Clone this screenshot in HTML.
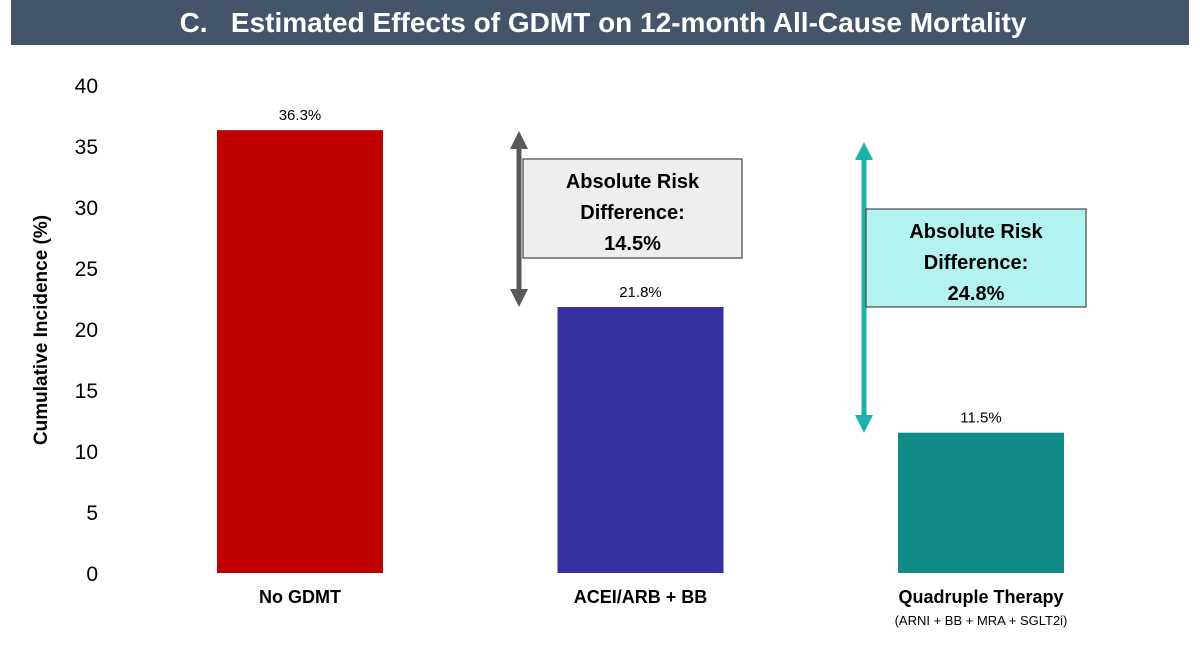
<!DOCTYPE html>
<html><head><meta charset="utf-8"><style>
html,body{margin:0;padding:0;background:#fff;width:1200px;height:657px;overflow:hidden}
svg{display:block;font-family:"Liberation Sans",sans-serif}
</style></head><body>
<svg id="c" width="1200" height="657" viewBox="0 0 1200 657">
<rect x="11" y="0" width="1178" height="45" fill="#44546a"/>
<text x="603" y="32" text-anchor="middle" fill="#fff" font-size="28" font-weight="bold">C.&#160;&#160; Estimated Effects of GDMT on 12-month All-Cause Mortality</text>
<text transform="translate(47,330) rotate(-90)" text-anchor="middle" font-size="19" font-weight="bold" fill="#000">Cumulative Incidence (%)</text>
<g id="ticks"></g><g id="bars"></g><g id="ann"></g>
</svg>
<script>
const categories=["No GDMT","ACEI/ARB + BB","Quadruple Therapy"];
const values=[36.3,21.8,11.5];
const valueLabels=["36.3%","21.8%","11.5%"];
const yTicks=[0,5,10,15,20,25,30,35,40];
const riskDiffs=["14.5%","24.8%"];
const colors=["#c00000","#3730a3","#128a87"];
const NS="http://www.w3.org/2000/svg";
const svg=document.getElementById('c');
function y(v){return 573-v*12.2;}
function xc(i){return 300+i*340.5;}
function mk(t,a,p,txt){const e=document.createElementNS(NS,t);for(const k in a)e.setAttribute(k,a[k]);if(txt!==undefined)e.textContent=txt;(p||svg).appendChild(e);return e;}
const tg=document.getElementById('ticks');
yTicks.forEach(t=>{const e=mk('text',{x:98,y:y(t)+8,'text-anchor':'end','font-size':21,fill:'#000'},tg,String(t));

});
const bg=document.getElementById('bars');
values.forEach((v,i)=>{const r=mk('rect',{x:xc(i)-83,y:y(v),width:166,height:y(0)-y(v),fill:colors[i]},bg);


const l=mk('text',{x:xc(i),y:y(v)-10,'text-anchor':'middle','font-size':15,fill:'#000'},bg,valueLabels[i]);


const c=mk('text',{x:xc(i),y:603,'text-anchor':'middle','font-size':18,'font-weight':'bold',fill:'#000'},bg,categories[i]);

});
const sub=mk('text',{x:xc(2),y:625,'text-anchor':'middle','font-size':13,fill:'#000'},bg,"(ARNI + BB + MRA + SGLT2i)");


const ag=document.getElementById('ann');
function arrow(x,top,bot,col,name){const g=mk('g',{},ag);


mk('line',{x1:x,x2:x,y1:top+14,y2:bot-14,stroke:col,'stroke-width':5},g);
mk('polygon',{points:`${x-9},${top+18} ${x},${top} ${x+9},${top+18}`,fill:col},g);
mk('polygon',{points:`${x-9},${bot-18} ${x},${bot} ${x+9},${bot-18}`,fill:col},g);}
function box(x,yy,w,h,fill,val,name){const g=mk('g',{},ag);


mk('rect',{x:x,y:yy,width:w,height:h,fill:fill,stroke:'#444','stroke-width':1.2},g);
["Absolute Risk","Difference:",val].forEach((s,k)=>mk('text',{x:x+w/2,y:yy+29+k*31,'text-anchor':'middle','font-size':20,'font-weight':'bold',fill:'#000'},g,s));}
arrow(519,131,307,'#595959','arrow-acei');
box(523,159,219,99,'#eeeeee',riskDiffs[0],'risk-box-acei');
arrow(864,142,433,'#20b2aa','arrow-quad');
box(866,209,220,98,'#b2f3f0',riskDiffs[1],'risk-box-quad');
</script>
</body></html>
